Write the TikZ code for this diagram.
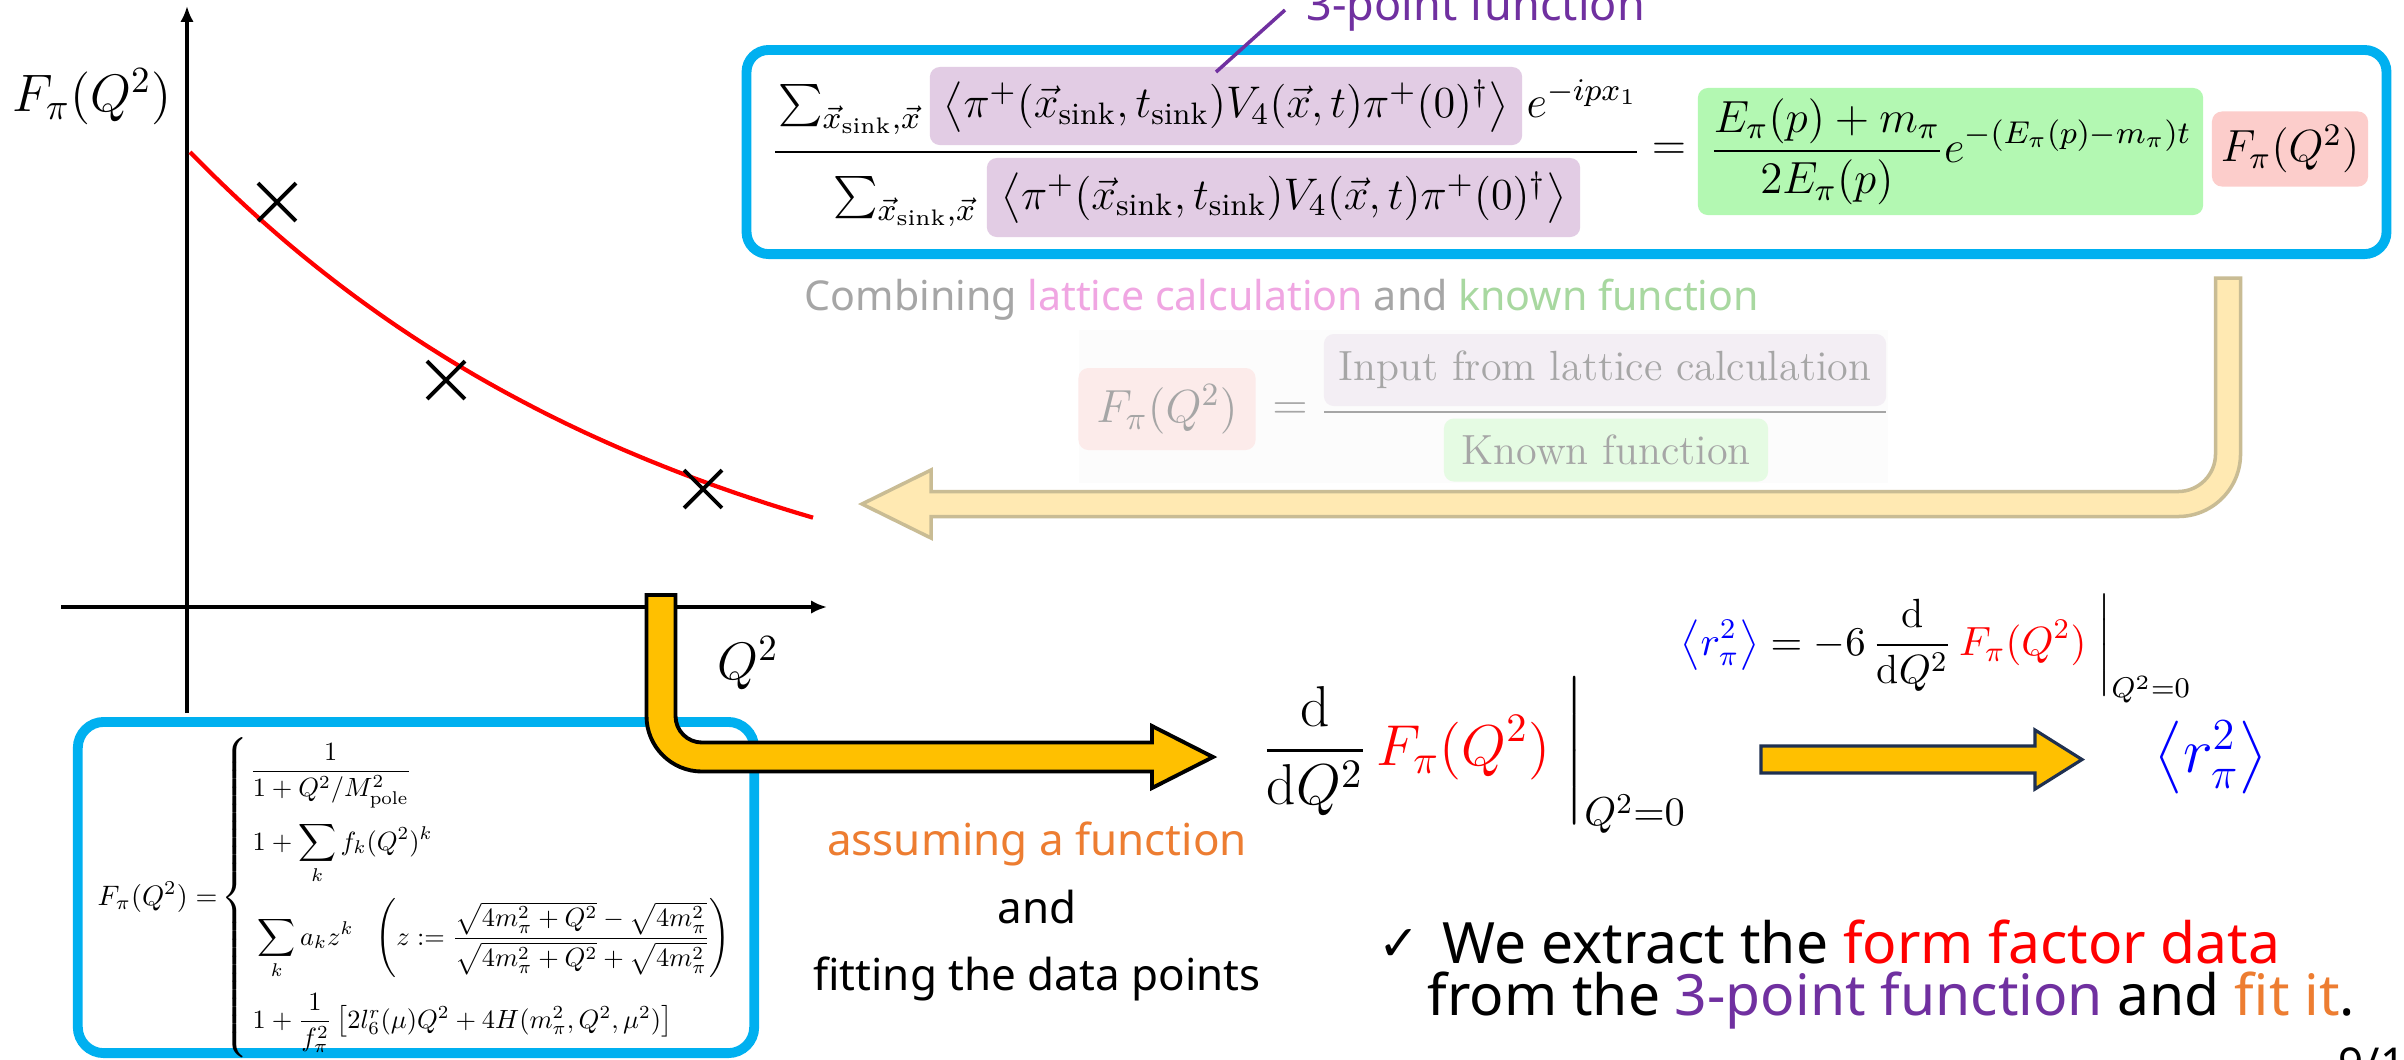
\RequirePackage{fix-cm}
\documentclass[tikz,border=0pt]{standalone}
\usepackage{amsmath}
\usepackage{graphicx}
\usepackage{fontspec}
\newfontfamily\nsans{Noto Sans}
\newfontfamily\djv{DejaVu Sans}
\usetikzlibrary{arrows.meta,shapes.misc}
\definecolor{bbox}{HTML}{00B0F0}
\definecolor{pbox}{HTML}{E2CCE4}
\definecolor{gbox}{HTML}{B3F8B2}
\definecolor{rbox}{HTML}{FCCDCB}
\definecolor{gold}{HTML}{FFC000}
\definecolor{navy}{HTML}{1F3050}
\definecolor{purp}{HTML}{7030A0}
\definecolor{orng}{HTML}{ED7D31}
\definecolor{fadegray}{HTML}{A6A6A6}
\definecolor{fadepink}{HTML}{F0A6E2}
\definecolor{fadegreen}{HTML}{A8D8A0}
\definecolor{lgold}{HTML}{FFE9B2}
\definecolor{lgoldedge}{HTML}{C9BC94}
\definecolor{fpbox}{HTML}{F3EEF4}
\definecolor{fgbox}{HTML}{E5FBE3}
\definecolor{frbox}{HTML}{FCEBEA}
\definecolor{fbg}{HTML}{FCFCFC}
\newcommand\setfs[1]{\fontsize{#1}{#1}\selectfont}
\newcommand\lsc[1]{\scalebox{0.75}{#1}}
\begin{document}
\begin{tikzpicture}[x=0.01cm,y=-0.01cm,
  hl/.style={rounded corners=0.1cm, inner sep=0pt, anchor=center},
  pbx/.style={hl, fill=pbox},
  gbx/.style={hl, fill=gbox},
  rbx/.style={hl, fill=rbox},
  bluebox/.style={draw=bbox, line width=2.8pt, rounded corners=0.22cm, inner sep=0pt},
  axis/.style={line width=1.1pt, -{Latex[length=4.5pt,width=3.8pt]}},
  datapt/.style={cross out, draw, line width=1.1pt, minimum size=0.34cm, inner sep=0pt},
  mtop/.style={font=\setfs{12.8}},
  mpur/.style={font=\setfs{12.6}},
  lrow/.style={anchor=base west, inner sep=0pt},
  stext/.style={font=\nsans\setfs{12.5}},
  btext/.style={font=\nsans\setfs{16.2}},
]
\fill[white] (0,0) rectangle (2404,1059);
\useasboundingbox (0,0) rectangle (2404,1059);

% ---------- graph ----------
\coordinate (yb) at (187,713);
\coordinate (yt) at (187,6);
\coordinate (xl) at (61,607);
\coordinate (xr) at (827,607);
\draw[axis] (yb) -- (yt);
\draw[axis] (xl) -- (xr);
\node (ylab) at (92,97) {\setfs{15}$F_\pi(Q^2)$};
\node (xlab) at (748,663) {\setfs{15}$Q^2$};
\draw[red, line width=1.2pt] plot[domain=190:813, samples=80] (\x, {152+512*(1-exp(-(\x-190)/497.5))});
\node[datapt] (p1) at (277,202) {};
\node[datapt] (p2) at (446,380) {};
\node[datapt] (p3) at (703,489) {};

% ---------- top box ----------
\node[bluebox, minimum width=16.39cm, minimum height=2.04cm] (topbox) at (1566.5,152) {};
\node[pbx, minimum width=5.92cm, minimum height=0.78cm, mpur] (pn) at (1226,106)
  {$\left\langle \pi^+(\vec x_{\mathrm{sink}},t_{\mathrm{sink}})V_4(\vec x,t)\pi^+(0)^\dagger\right\rangle$};
\node[anchor=base, mtop] (sn) at (850,117) {$\sum_{\vec x_{\mathrm{sink}},\vec x}$};
\node[anchor=base west, mtop, inner sep=0pt] (en) at (1526,117) {$e^{-ipx_1}$};
\coordinate (fl) at (775,152);
\coordinate (fr) at (1637,152);
\draw[line width=0.8pt] (fl) -- (fr);
\node[pbx, minimum width=5.93cm, minimum height=0.79cm, mpur] (pd) at (1283.5,197.5)
  {$\left\langle \pi^+(\vec x_{\mathrm{sink}},t_{\mathrm{sink}})V_4(\vec x,t)\pi^+(0)^\dagger\right\rangle$};
\node[anchor=base, mtop] (sd) at (905,209) {$\sum_{\vec x_{\mathrm{sink}},\vec x}$};
\node[mtop] (eq) at (1669,151) {$=$};
\node[gbx, minimum width=5.05cm, minimum height=1.27cm, mtop] (gr) at (1950.5,151.5)
  {$\displaystyle\frac{E_\pi(p)+m_\pi}{2E_\pi(p)}e^{-(E_\pi(p)-m_\pi)t}$};
\node[rbx, minimum width=1.56cm, minimum height=0.75cm, mtop] (rr) at (2290,149) {$F_\pi(Q^2)$};
\node[anchor=base west, font=\nsans\setfs{12.8}, text=purp, inner sep=0pt] (tpf) at (1306,20) {3-point function};
\coordinate (tp) at (1285,10);
\coordinate (tq) at (1216,72);
\draw[purp, line width=1pt] (tp) -- (tq);

% ---------- faded part ----------
\node[anchor=base west, font=\nsans\setfs{11.7}, inner sep=0pt] (comb) at (804,310)
  {\color{fadegray}Combining \color{fadepink}lattice calculation \color{fadegray}and \color{fadegreen}known function};
\fill[fbg] (1079,330) rectangle (1888,483);
\node[hl, fill=frbox, minimum width=1.77cm, minimum height=0.82cm, text=fadegray] (ff) at (1167,409) {\setfs{13.2}$F_\pi(Q^2)$};
\node[text=fadegray] (feq) at (1290,411) {\setfs{13.2}$=$};
\node[hl, fill=fpbox, minimum width=5.62cm, minimum height=0.72cm, text=fadegray] (fin) at (1605,370) {\setfs{12}Input from lattice calculation};
\coordinate (gl) at (1324,412);
\coordinate (gr2) at (1886,412);
\draw[fadegray, line width=0.7pt] (gl) -- (gr2);
\node[hl, fill=fgbox, minimum width=3.24cm, minimum height=0.63cm, text=fadegray] (fkn) at (1606,450) {\setfs{12}Known function};

% faded bent arrow
\draw[fill=lgold, draw=lgoldedge, line width=1pt]
  (2215.5,278) -- (2240.5,278) -- (2240.5,454)
  arc[start angle=0, end angle=90, radius=62.5] -- (931,516.5) -- (931,538) -- (862,504)
  -- (931,470) -- (931,491.5) -- (2178,491.5)
  arc[start angle=90, end angle=0, radius=37.5] -- cycle;

% ---------- left box ----------
\node[bluebox, rounded corners=0.26cm, minimum width=6.76cm, minimum height=3.31cm] (lbox) at (416,887.5) {};
\node[lrow] (lf) at (97,905) {\scalebox{0.8}{$F_\pi(Q^2) =$}};
\node[lrow, font=\setfs{8}] (lbr) at (221,904.5) {\delimiterfactor=1000 \delimitershortfall=0pt $\left\{\vrule height 42.25pt depth 42.25pt width 0pt\right.$};
\node[lrow] (r1) at (249,778) {\lsc{$\dfrac{1}{1+Q^2/M_{\mathrm{pole}}^2}$}};
\node[lrow] (r2) at (252,850) {\lsc{$1+\displaystyle\sum_k f_k(Q^2)^k$}};
\node[lrow] (r3) at (257,945) {\lsc{$\displaystyle\sum_k a_k z^k\ \ \left(z:=\frac{\sqrt{4m_\pi^2+Q^2}-\sqrt{4m_\pi^2}}{\sqrt{4m_\pi^2+Q^2}+\sqrt{4m_\pi^2}}\right)$}};
\node[lrow] (r4) at (252,1028) {\lsc{$1+\dfrac{1}{f_\pi^2}\left[2l_6^r(\mu)Q^2+4H(m_\pi^2,Q^2,\mu^2)\right]$}};

% gold bent arrow
\draw[fill=gold, draw=black, line width=1.1pt]
  (646.5,595) -- (646.5,716)
  arc[start angle=180, end angle=90, radius=55.5] -- (1152,771.5) -- (1152,788) -- (1213,757)
  -- (1152,726) -- (1152,742.5) -- (702,742.5)
  arc[start angle=90, end angle=180, radius=26.5] -- (675.5,595) -- cycle;

% ---------- formulas right ----------
\node[anchor=base west, inner sep=0pt] (bigf) at (1262,765) {\setfs{16.4}$\displaystyle\frac{\mathrm d}{\mathrm dQ^2}\,{\color{red}F_\pi(Q^2)}\left.\vphantom{\frac{\mathrm d}{\mathrm dQ^2}}\right|_{Q^2=0}$};
\node[anchor=base west, inner sep=0pt] (smf) at (1680,655) {\setfs{11.6}$\displaystyle{\color{blue}\left\langle r_\pi^2\right\rangle} = -6\,\frac{\mathrm d}{\mathrm dQ^2}\,{\color{red}F_\pi(Q^2)}\left.\vphantom{\frac{\mathrm d}{\mathrm dQ^2}}\right|_{Q^2=0}$};
\draw[fill=gold, draw=navy, line width=0.9pt]
  (1761,746) -- (2035,746) -- (2035,730) -- (2082,759.5) -- (2035,789) -- (2035,773) -- (1761,773) -- cycle;
\node[text=blue] (rr2) at (2211,757) {\setfs{18}$\left\langle r_\pi^2\right\rangle$};

% ---------- texts ----------
\node[anchor=base, stext, text=orng] (assume) at (1037,855) {assuming a function};
\node[anchor=base, stext] (andt) at (1037,923) {and};
\node[anchor=base, stext] (fitt) at (1037,990) {fitting the data points};
\node[anchor=base west, inner sep=0pt, font=\djv\setfs{14}] (chk) at (1378,960) {✓};
\node[anchor=base west, inner sep=0pt, btext] (l1) at (1442,963) {We extract the \textcolor{red}{form factor data}};
\node[anchor=base west, inner sep=0pt, btext] (l2) at (1427,1015) {from the \textcolor{purp}{3-point function} and \textcolor{orng}{fit it}.};
\node[anchor=north west, inner sep=0pt, font=\nsans\setfs{12.5}] (pg) at (2338,1047) {9/1};
\end{tikzpicture}
\end{document}
